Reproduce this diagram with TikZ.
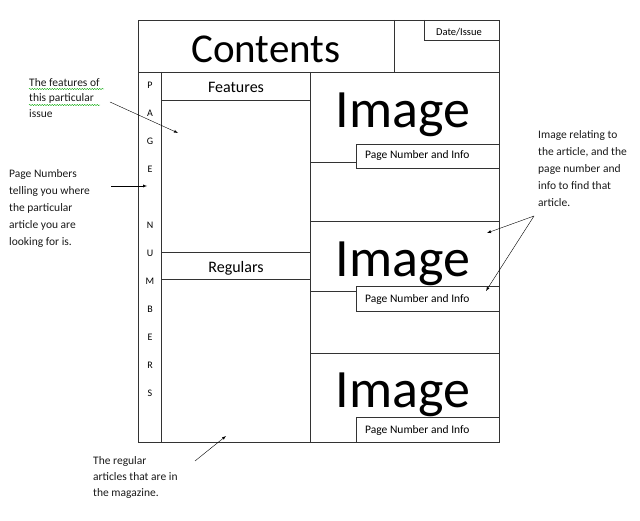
\documentclass[tikz,border=0pt]{standalone}
\usepackage{fontspec}
\setmainfont{Carlito}
\usepackage{xcolor}
\usepackage{tikz}
\usetikzlibrary{positioning,decorations.pathmorphing}
\tikzset{
  box/.style={draw=black!80, line width=0.8pt},
  note/.style={anchor=north west, align=left, inner sep=0pt, text=black!90},
  spell/.style={draw=green!65!black, decorate, decoration={snake, amplitude=0.6pt, segment length=2.5pt}}
}

\begin{document}
\begin{tikzpicture}[x=1pt, y=-1pt]
						\useasboundingbox (0,0) rectangle (640,521);
						% outer page and header
						\draw[box] (138,20) rectangle (499,442);
						\draw[box] (138,72) -- (499,72);
						\draw[box] (394,20) -- (394,72);
						\draw[box] (424,20) -- (424,40) -- (499,40);
						\node[anchor=base, inner sep=0pt, font=\fontsize{41}{41}\selectfont] (contents) at (266,63) {Contents};
						\node[anchor=base, inner sep=0pt, font=\fontsize{10.5}{10.5}\selectfont] (date) at (459,36) {Date/Issue};
						
						% left columns
						\draw[box] (161,72) -- (161,442);
						\draw[box] (310,72) -- (310,442);
						\draw[box] (161,100) -- (310,100);
						\draw[box] (161,252) -- (310,252);
						\draw[box] (161,279) -- (310,279);
						\node[anchor=base, inner sep=0pt, font=\fontsize{16}{16}\selectfont] (features) at (236,93) {Features};
						\node[anchor=base, inner sep=0pt, font=\fontsize{16}{16}\selectfont] (regulars) at (236,273) {Regulars};
						\foreach \l/\i in {P/0,A/1,G/2,E/3,N/5,U/6,M/7,B/8,E/9,R/10,S/11}
							\node[inner sep=0pt, font=\fontsize{10}{10}\selectfont] (pn\i) at (150,85+28*\i) {\l};
						
						% image blocks
						\draw[box] (310,221) -- (499,221);
						\draw[box] (310,353) -- (499,353);
						\draw[box] (356,144) rectangle (499,168);
						\draw[box] (310,162) -- (356,162);
						\draw[box] (356,286) rectangle (499,311);
						\draw[box] (310,291) -- (356,291);
						\draw[box] (356,417) rectangle (499,442);
						\foreach \y/\n in {128/1,277/2,407/3}
							\node[anchor=base, inner sep=0pt, font=\fontsize{54}{54}\selectfont] (image\n) at (403,\y) {Image};
						\foreach \y/\n in {159/1,303/2,433/3}
							\node[anchor=base west, inner sep=0pt, font=\fontsize{11.5}{11.5}\selectfont] (info\n) at (365,\y) {Page Number and Info};
						
						% notes
						\node[note, font=\fontsize{11.5}{15.5}\selectfont] (featnote) at (29,78) {The features of\\this particular\\issue};
						\draw[spell] (29,89) -- (104,89);
						\draw[spell] (29,105) -- (100,105);
						\node[note, font=\fontsize{11.5}{17}\selectfont] (pagenote) at (9,169) {Page Numbers\\telling you where\\the particular\\article you are\\looking for is.};
						\node[note, font=\fontsize{11.5}{17}\selectfont] (imagenote) at (538,130) {Image relating to\\the article, and the\\page number and\\info to find that\\article.};
						\node[note, font=\fontsize{11.5}{16}\selectfont] (regnote) at (93,456) {The regular\\articles that are in\\the magazine.};
						
						\coordinate (featfrom) at (110,102);
						\coordinate (featto) at (178,133);
						\coordinate (pagefrom) at (111,186);
						\coordinate (pageto) at (147,186);
						\coordinate (imgfrom) at (534,216);
						\coordinate (imgto) at (487,233);
						\coordinate (infoto) at (486,291);
						\coordinate (regfrom) at (195,461);
						\coordinate (regto) at (226,436);
						\draw[->, >=latex, thin] (featfrom) -- (featto);
						\draw[->, >=latex, thin] (pagefrom) -- (pageto);
						\draw[->, >=latex, thin] (imgfrom) -- (imgto);
						\draw[->, >=latex, thin] (imgfrom) -- (infoto);
						\draw[->, >=latex, thin] (regfrom) -- (regto);
					\end{tikzpicture}
\end{document}
